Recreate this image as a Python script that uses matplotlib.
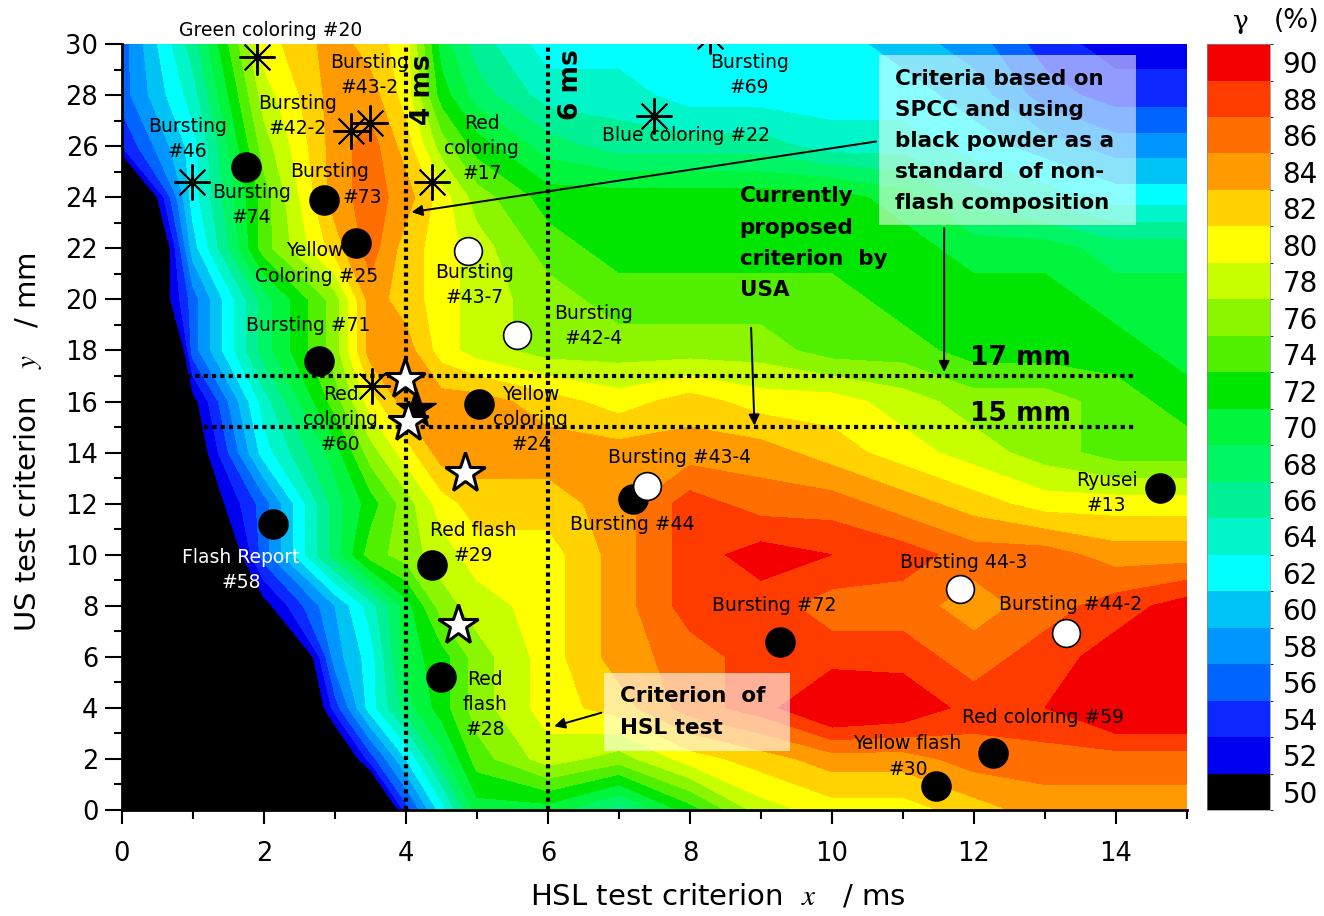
import numpy as np
import matplotlib
matplotlib.use("Agg")
import matplotlib.pyplot as plt
from matplotlib.colors import ListedColormap, BoundaryNorm
from matplotlib.cm import ScalarMappable
from matplotlib.patches import Rectangle
from matplotlib.ticker import MultipleLocator

plt.rcParams["font.family"] = ["DejaVu Sans"]
plt.rcParams["mathtext.fontset"] = "stix"

# grid of the gamma map (x in ms, y in mm), rows from y=0 up to y=30
x_ms = [0, 1, 2, 3, 3.5, 4, 4.5, 5, 6, 7, 8, 9, 10, 11, 12, 13, 14, 15]
y_mm = [0, 2, 4, 6, 8, 10, 12, 14, 16, 18, 20, 22, 24, 26, 28, 30]
gamma = [
    [5, 5, 10, 30, 40, 54, 62, 70, 70, 66, 72, 78, 80, 80, 82, 84, 84, 84],
    [5, 5, 20, 45, 54, 61, 68, 74, 78, 76, 80, 82, 84, 84, 86, 86, 86, 86],
    [5, 10, 34, 54, 62, 68, 72, 76, 80, 82, 86, 88, 92, 91, 88, 89, 92, 92],
    [5, 15, 35, 58, 62, 70, 72, 76, 80, 84, 86, 88, 88, 88, 86, 88, 90, 92],
    [5, 20, 50, 59, 64, 70, 76, 78, 80, 84, 88, 88, 86, 86, 84, 86, 88, 90],
    [5, 40, 56, 68, 74, 76, 78, 80, 80, 84, 88, 90, 89, 88, 86, 86, 84, 84],
    [5, 47, 56, 68, 72, 76, 80, 82, 82, 84, 88, 86, 86, 84, 82, 80, 80, 80],
    [5, 48, 62, 70, 76, 80, 84, 84, 84, 84, 84, 84, 82, 80, 78, 76, 74, 74],
    [10, 50, 64, 74, 80, 84, 84, 84, 82, 80, 82, 80, 80, 78, 76, 76, 74, 72],
    [15, 56, 68, 76, 84, 84, 80, 78, 76, 76, 76, 76, 74, 74, 72, 72, 72, 70],
    [40, 56, 68, 76, 84, 82, 80, 78, 76, 74, 74, 74, 74, 72, 72, 72, 70, 70],
    [32, 60, 74, 82, 86, 82, 80, 78, 74, 72, 72, 72, 72, 72, 70, 70, 68, 68],
    [40, 62, 74, 84, 86, 84, 80, 76, 72, 72, 72, 72, 72, 70, 66, 64, 62, 62],
    [53, 62, 76, 84, 86, 82, 76, 72, 68, 66, 66, 66, 64, 64, 62, 60, 58, 58],
    [56, 64, 78, 84, 84, 80, 72, 68, 64, 64, 62, 62, 62, 62, 60, 56, 54, 54],
    [56, 66, 80, 84, 82, 80, 70, 66, 62, 62, 62, 62, 62, 60, 58, 54, 52, 52],
]

levels = [50, 52, 54, 56, 58, 60, 62, 64, 66, 68, 70,
          72, 74, 76, 78, 80, 82, 84, 86, 88, 90]
level_colors = ["#000000", "#0000f0", "#0a28ff", "#0064ff", "#0096ff",
                "#00c3f5", "#00ffff", "#00f5c8", "#00f096", "#00f564",
                "#00f53c", "#00e600", "#50f000", "#8cf500", "#c8ff00",
                "#ffff00", "#ffd200", "#ff9b00", "#ff6e00", "#ff3c00",
                "#f50000"]

# test results
black_x = [1.75, 2.84, 3.30, 2.78, 5.03, 2.13, 4.36, 4.50, 7.20, 9.27, 12.27, 11.47, 14.62]
black_y = [25.2, 23.9, 22.2, 17.6, 15.9, 11.2, 9.6, 5.2, 12.2, 6.6, 2.23, 0.94, 12.6]
white_x = [4.87, 5.56, 7.39, 11.80, 13.30]
white_y = [21.9, 18.6, 12.7, 8.66, 6.93]
aster_x = [1.90, 0.99, 3.22, 3.49, 4.36, 7.50, 8.28, 3.52]
aster_y = [29.5, 24.6, 26.6, 26.9, 24.6, 27.2, 30.3, 16.6]
star_x = [3.98, 4.03, 4.83, 4.73]
star_y = [16.9, 15.2, 13.2, 7.25]
black_star_x = [4.14]
black_star_y = [15.7]

labels = [
    ("Bursting\n#43-2", 3.49, 28.8), ("Bursting\n#42-2", 2.47, 27.2),
    ("Bursting\n#46", 0.92, 26.3), ("Bursting\n#74", 1.82, 23.7),
    ("Bursting", 2.92, 25.0), ("#73", 3.39, 24.0),
    ("Yellow", 2.71, 21.9), ("Coloring #25", 2.74, 20.9),
    ("Red\ncoloring\n#17", 5.07, 25.9), ("Bursting\n#43-7", 4.97, 20.55),
    ("Bursting #71", 2.63, 18.96), ("Bursting\n#42-4", 6.64, 18.96),
    ("Red\ncoloring\n#60", 3.08, 15.3), ("Yellow\ncoloring\n#24", 5.76, 15.3),
    ("Bursting\n#69", 8.84, 28.8), ("Blue coloring #22", 7.95, 26.4),
    ("Bursting #43-4", 7.85, 13.8), ("Bursting #44", 7.19, 11.2),
    ("Ryusei\n#13", 13.87, 12.4), ("Red flash\n#29", 4.95, 10.44),
    ("Bursting 44-3", 11.85, 9.7), ("Bursting #72", 9.18, 8.0),
    ("Bursting #44-2", 13.36, 8.03), ("Red\nflash\n#28", 5.11, 4.15),
    ("Red coloring #59", 12.97, 3.64), ("Yellow flash", 11.06, 2.59),
    ("#30", 11.07, 1.6),
]

fig = plt.figure(figsize=(13.24, 9.16), dpi=100)
ax = fig.add_axes([0.0921, 0.1157, 0.8044, 0.8362])
cax = fig.add_axes([0.9116, 0.1157, 0.0476, 0.8362])

edges = [-100] + [v + 1 for v in levels[:-1]] + [200]
ax.contourf(x_ms, y_mm, gamma, levels=edges, colors=level_colors, zorder=0)

# criteria lines
dots = (0, (1, 1))
ax.axvline(4, color="k", lw=3, ls=dots, zorder=2)
ax.axvline(6, color="k", lw=3, ls=dots, zorder=2)
ax.plot([0.92, 14.3], [17, 17], color="k", lw=3, ls=dots, zorder=2)
ax.plot([1.15, 14.25], [15, 15], color="k", lw=3, ls=dots, zorder=2)

for text, x, y in labels:
    ax.text(x, y, text, ha="center", va="center", fontsize=13.5,
            linespacing=1.4, zorder=3)
ax.text(1.68, 9.42, "Flash Report\n#58", ha="center", va="center",
        fontsize=13.5, color="white", linespacing=1.4, zorder=3)
ax.text(2.09, 30.55, "Green coloring #20", ha="center", va="center",
        fontsize=13.5, clip_on=False)

ax.plot(black_x, black_y, "o", ms=21, color="k", zorder=4)
ax.plot(white_x, white_y, "o", ms=20, mfc="white", mec="k", mew=1.2, zorder=4)
ax.plot(aster_x, aster_y, ls="none", marker=(8, 2, 0), ms=26, color="k",
        mew=1.4, zorder=4)
ax.plot(black_star_x, black_star_y, "*", ms=30, color="k", zorder=4)
ax.plot(star_x, star_y, "*", ms=30, mfc="white", mec="k", mew=2.2, zorder=5)

# criterion notes
ax.text(4.24, 28.2, "4 ms", rotation=90, ha="center", va="center",
        fontsize=19, fontweight="bold", zorder=3)
ax.text(6.33, 28.4, "6 ms", rotation=90, ha="center", va="center",
        fontsize=19, fontweight="bold", zorder=3)
ax.text(12.65, 17.7, "17 mm", ha="center", va="center", fontsize=19,
        fontweight="bold", zorder=3)
ax.text(12.65, 15.5, "15 mm", ha="center", va="center", fontsize=19,
        fontweight="bold", zorder=3)

note = dict(fontsize=15.5, fontweight="bold", linespacing=1.7, zorder=6,
            ha="left", va="center")
ax.add_patch(Rectangle((10.66, 22.9), 3.62, 6.67, fc="white", ec="none",
                       alpha=0.55, zorder=5))
ax.text(10.89, 26.2, "Criteria based on\nSPCC and using\nblack powder as a\n"
        "standard  of non-\nflash composition", **note)
ax.text(8.7, 22.2, "Currently\nproposed\ncriterion  by\nUSA", **note)
ax.add_patch(Rectangle((6.79, 2.31), 2.62, 3.06, fc="white", ec="none",
                       alpha=0.6, zorder=5))
ax.text(7.02, 3.84, "Criterion  of\nHSL test", **note)

arrow = dict(arrowstyle="-|>", color="k", lw=1.4, mutation_scale=16)
ax.annotate("", xy=(4.04, 23.4), xytext=(10.66, 26.2), arrowprops=arrow, zorder=6)
ax.annotate("", xy=(11.58, 17.05), xytext=(11.58, 22.9), arrowprops=arrow, zorder=6)
ax.annotate("", xy=(8.91, 14.95), xytext=(8.86, 19.0), arrowprops=arrow, zorder=6)
ax.annotate("", xy=(6.05, 3.25), xytext=(6.79, 3.84), arrowprops=arrow, zorder=6)

ax.set_xlim(0, 15)
ax.set_ylim(0, 30)
ax.set_xticks(range(0, 15, 2))
ax.set_yticks(range(0, 31, 2))
ax.xaxis.set_minor_locator(MultipleLocator(1))
ax.yaxis.set_minor_locator(MultipleLocator(1))
ax.tick_params(which="both", direction="out", width=1.5, labelsize=18.5)
ax.tick_params(axis="x", which="major", length=10, pad=12)
ax.tick_params(axis="x", which="minor", length=6.5)
ax.tick_params(axis="y", which="major", length=12, pad=5)
ax.tick_params(axis="y", which="minor", length=6)
for side in ["top", "right"]:
    ax.spines[side].set_visible(False)
for side in ["left", "bottom"]:
    ax.spines[side].set_linewidth(2)

ax.set_xlabel("HSL test criterion  $x$   / ms", fontsize=21)
ax.xaxis.set_label_coords(0.559, -0.095)
ax.set_ylabel("US test criterion   $y$   / mm", fontsize=21)
ax.yaxis.set_label_coords(-0.073, 0.48)

sm = ScalarMappable(norm=BoundaryNorm(np.arange(49, 92, 2), 21),
                    cmap=ListedColormap(level_colors))
cb = fig.colorbar(sm, cax=cax, ticks=levels)
cb.ax.tick_params(length=0, labelsize=20, pad=9)
cb.outline.set_linewidth(0.5)
cb.outline.set_edgecolor("#888888")
fig.text(0.937, 0.977, "γ", family="DejaVu Serif", fontsize=19,
         ha="center", va="center")
fig.text(0.979, 0.977, "(%)", fontsize=19, ha="center", va="center")

fig.savefig("out.png", dpi=100)
